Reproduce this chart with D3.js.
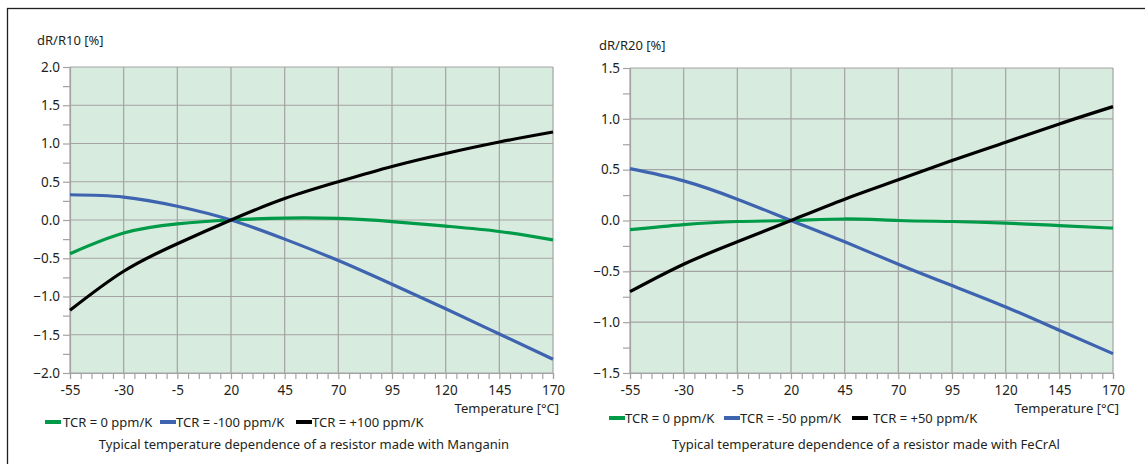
<!DOCTYPE html>
<html>
<head>
<meta charset="utf-8">
<script src="https://cdn.jsdelivr.net/npm/d3@7"></script>
<style>
  body { margin: 0; background: #fff; }
  svg text { font-family: "Noto Sans", sans-serif; fill: #231f20; }
</style>
</head>
<body>
<svg id="chart" width="1145" height="464"></svg>
<script>
// temperaturas (eje x) comunes a las dos gráficas
var temps = [-55, -30, -5, 20, 45, 70, 95, 120, 145, 170];

// Manganin, dR/R10 [%]
var manganinZero = [-0.44, -0.17, -0.05, 0, 0.025, 0.02, -0.02, -0.08, -0.15, -0.26];
var manganinNeg  = [0.33, 0.30, 0.18, 0, -0.25, -0.53, -0.84, -1.16, -1.49, -1.82];
var manganinPos  = [-1.18, -0.67, -0.31, 0, 0.28, 0.50, 0.70, 0.87, 1.02, 1.15];

// FeCrAl, dR/R20 [%]
var fecralZero = [-0.09, -0.04, -0.01, 0, 0.015, 0.0, -0.01, -0.025, -0.05, -0.075];
var fecralNeg  = [0.51, 0.39, 0.21, 0, -0.21, -0.43, -0.64, -0.85, -1.08, -1.31];
var fecralPos  = [-0.70, -0.43, -0.21, 0, 0.21, 0.40, 0.59, 0.77, 0.95, 1.12];

var manganinTicks = [-2.0, -1.5, -1.0, -0.5, 0.0, 0.5, 1.0, 1.5, 2.0];
var fecralTicks   = [-1.5, -1.0, -0.5, 0.0, 0.5, 1.0, 1.5];

var manganinLegend = ["TCR = 0 ppm/K", "TCR = -100 ppm/K", "TCR = +100 ppm/K"];
var fecralLegend   = ["TCR = 0 ppm/K", "TCR = -50 ppm/K", "TCR = +50 ppm/K"];

var colors = ["#009b48", "#3e64b0", "#000000"],
    gridColor = "#a3a3a3",
    bgColor = "#d8ebdf";

var svg = d3.select("#chart");

// marco exterior
svg.append("rect")
  .attr("x", 7.5).attr("y", 8.5)
  .attr("width", 1150).attr("height", 470)
  .attr("fill", "none").attr("stroke", "#231f20").attr("stroke-width", 1.3);

function drawChart(o) {
  var x = d3.scaleLinear().domain([-55, 170]).range([o.left, o.right]);
  var y = d3.scaleLinear().domain(d3.extent(o.yTicks)).range([o.bottom, o.top]);
  var g = svg.append("g");

  g.append("rect")
    .attr("x", o.left).attr("y", o.top)
    .attr("width", o.right - o.left).attr("height", o.bottom - o.top)
    .attr("fill", bgColor);

  // rejilla
  g.selectAll(".vgrid").data(temps).enter().append("line")
    .attr("x1", d => x(d)).attr("x2", d => x(d))
    .attr("y1", o.top).attr("y2", o.bottom)
    .attr("stroke", gridColor).attr("stroke-width", 1.2);
  g.selectAll(".hgrid").data(o.yTicks).enter().append("line")
    .attr("x1", o.left).attr("x2", o.right)
    .attr("y1", d => y(d)).attr("y2", d => y(d))
    .attr("stroke", gridColor).attr("stroke-width", 1.2);

  // eje y
  var yAxis = d3.axisLeft(y)
    .tickValues(d3.range(y.domain()[0], y.domain()[1] + 0.01, 0.25))
    .tickSize(7)
    .tickFormat(d => o.yTicks.some(t => Math.abs(t - d) < 1e-6) ? d3.format(".1f")(d) : "");
  var ya = g.append("g").attr("transform", "translate(" + o.left + ",0)").call(yAxis);
  ya.select(".domain").attr("stroke", gridColor).attr("stroke-width", 1.2);
  ya.selectAll(".tick line").attr("stroke", gridColor).attr("stroke-width", 1.2);
  ya.selectAll(".tick text").attr("x", -10).style("font-size", "13.5px")
    .style("font-family", "'Noto Sans', sans-serif").attr("fill", "#231f20");

  // eje x
  var xAxis = d3.axisBottom(x)
    .tickValues(d3.range(-55, 171, 5))
    .tickSize(6)
    .tickFormat(d => temps.indexOf(d) >= 0 ? d : "");
  var xa = g.append("g").attr("transform", "translate(0," + o.bottom + ")").call(xAxis);
  xa.select(".domain").attr("stroke", gridColor).attr("stroke-width", 1.2);
  xa.selectAll(".tick line").attr("stroke", gridColor).attr("stroke-width", 1.2);
  xa.selectAll(".tick text").attr("y", 12).style("font-size", "13.5px")
    .style("font-family", "'Noto Sans', sans-serif").attr("fill", "#231f20");

  // curvas
  var line = d3.line()
    .x((d, i) => x(temps[i]))
    .y(d => y(d))
    .curve(d3.curveNatural);
  o.series.forEach(function (s, i) {
    g.append("path").datum(s)
      .attr("d", line)
      .attr("fill", "none")
      .attr("stroke", colors[i])
      .attr("stroke-width", 3.2);
  });

  // textos
  g.append("text").attr("x", o.titleX).attr("y", o.titleY)
    .style("font-size", "13px").text(o.yTitle);
  g.append("text").attr("x", o.right + 6).attr("y", 413)
    .attr("text-anchor", "end").style("font-size", "13px").text("Temperature [°C]");

  // leyenda
  o.legend.forEach(function (label, i) {
    var lx = o.legendX[i];
    g.append("line")
      .attr("x1", lx).attr("x2", lx + 16)
      .attr("y1", o.legendY).attr("y2", o.legendY)
      .attr("stroke", colors[i]).attr("stroke-width", 4);
    g.append("text").attr("x", lx + 16 + o.legendGap[i]).attr("y", o.legendY + 5)
      .style("font-size", "13px").text(label);
  });

  g.append("text").attr("x", o.captionX).attr("y", 449)
    .attr("text-anchor", "middle").style("font-size", "13px").text(o.caption);
}

drawChart({
  left: 70, right: 553, top: 67, bottom: 373,
  yTicks: manganinTicks,
  series: [manganinZero, manganinNeg, manganinPos],
  yTitle: "dR/R10 [%]", titleX: 37, titleY: 45,
  legend: manganinLegend, legendX: [45, 160, 296], legendGap: [2, 0, 0], legendY: 422,
  caption: "Typical temperature dependence of a resistor made with Manganin", captionX: 304
});

drawChart({
  left: 630, right: 1113, top: 68, bottom: 373,
  yTicks: fecralTicks,
  series: [fecralZero, fecralNeg, fecralPos],
  yTitle: "dR/R20 [%]", titleX: 599, titleY: 50,
  legend: fecralLegend, legendX: [609, 724, 852], legendGap: [0, 0, 5], legendY: 418,
  caption: "Typical temperature dependence of a resistor made with FeCrAl", captionX: 866
});
</script>
</body>
</html>
